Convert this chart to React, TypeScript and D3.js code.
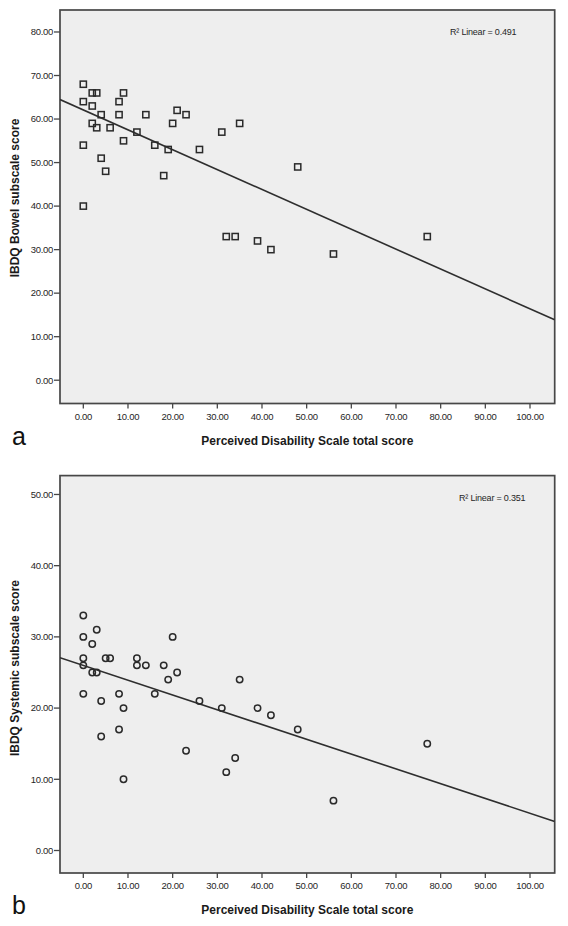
import React from "react";
import * as d3 from "d3";

// ---- Data ----
const xTickValues = [0, 10, 20, 30, 40, 50, 60, 70, 80, 90, 100];
const yTicksBowel = [0, 10, 20, 30, 40, 50, 60, 70, 80];
const yTicksSystemic = [0, 10, 20, 30, 40, 50];

// Panel a: Perceived Disability Scale total score vs IBDQ Bowel subscale score
const bowelX = [0, 2, 3, 9, 0, 8, 2, 4, 8, 14, 21, 23, 2, 3, 6, 20, 12, 9, 31, 35, 0, 16, 19, 26, 4, 5, 18, 0, 48, 32, 34, 39, 42, 56, 77];
const bowelY = [68, 66, 66, 66, 64, 64, 63, 61, 61, 61, 62, 61, 59, 58, 58, 59, 57, 55, 57, 59, 54, 54, 53, 53, 51, 48, 47, 40, 49, 33, 33, 32, 30, 29, 33];
const bowelFit = [62.1, -0.457]; // intercept, slope
const bowelR2 = "0.491";

// Panel b: Perceived Disability Scale total score vs IBDQ Systemic subscale score
const systemicX = [0, 3, 0, 20, 2, 0, 5, 6, 12, 0, 12, 14, 18, 2, 3, 21, 19, 35, 0, 8, 16, 4, 26, 9, 31, 39, 42, 48, 77, 8, 4, 23, 34, 32, 9, 56];
const systemicY = [33, 31, 30, 30, 29, 27, 27, 27, 27, 26, 26, 26, 26, 25, 25, 25, 24, 24, 22, 22, 22, 21, 21, 20, 20, 20, 19, 17, 15, 17, 16, 14, 13, 11, 10, 7];
const systemicFit = [26.0, -0.2077];
const systemicR2 = "0.351";

const FONT = "'Liberation Sans', Arial, Helvetica, sans-serif";
const FRAME = "#474747";
const INK = "#262626";

type PanelProps = {
  id: string;
  letter: string;
  xs: number[];
  ys: number[];
  fit: number[];
  r2: string;
  yTicks: number[];
  yTitle: string;
  top: number;
  bottom: number;
  yDomain: [number, number];
  yTitleY: number;
  r2X: number;
  marker: "square" | "circle";
};

const LEFT = 60;
const RIGHT = 554.7;
const X_DOMAIN: [number, number] = [-5.22, 105.53];

function Panel(p: PanelProps) {
  const x = d3.scaleLinear().domain(X_DOMAIN).range([LEFT, RIGHT]);
  const y = d3.scaleLinear().domain(p.yDomain).range([p.bottom, p.top]);
  const fitLine = d3
    .line<number>()
    .x((d) => x(d))
    .y((d) => y(p.fit[0] + p.fit[1] * d));
  const pts = p.xs.map((v, i) => [v, p.ys[i]]);
  return (
    <g>
      <defs>
        <clipPath id={`clip-${p.id}`}>
          <rect x={LEFT} y={p.top} width={RIGHT - LEFT} height={p.bottom - p.top} />
        </clipPath>
      </defs>
      <rect x={LEFT} y={p.top} width={RIGHT - LEFT} height={p.bottom - p.top} fill="#eeeeee" stroke={FRAME} strokeWidth={1.7} />
      {/* y ticks */}
      {p.yTicks.map((t) => (
        <g key={`y${t}`}>
          <line x1={LEFT - 6} x2={LEFT} y1={y(t)} y2={y(t)} stroke={FRAME} strokeWidth={1.3} />
          <text x={LEFT - 7} y={y(t)} dy="0.35em" textAnchor="end" fontSize={9.5} fill={INK} fontFamily={FONT} letterSpacing={-0.3}>
            {t.toFixed(2)}
          </text>
        </g>
      ))}
      {/* x ticks */}
      {xTickValues.map((t) => (
        <g key={`x${t}`}>
          <line x1={x(t)} x2={x(t)} y1={p.bottom} y2={p.bottom + 5} stroke={FRAME} strokeWidth={1.3} />
          <text x={x(t)} y={p.bottom + 13} dy="0.35em" textAnchor="middle" fontSize={9.5} fill={INK} fontFamily={FONT} letterSpacing={-0.3}>
            {t.toFixed(2)}
          </text>
        </g>
      ))}
      <g clipPath={`url(#clip-${p.id})`}>
        <path d={fitLine([X_DOMAIN[0], X_DOMAIN[1]]) || ""} fill="none" stroke="#2e2e2e" strokeWidth={1.6} />
        {pts.map(([a, b], i) =>
          p.marker === "square" ? (
            <rect key={i} x={x(a) - 3.1} y={y(b) - 3.1} width={6.2} height={6.2} fill="none" stroke="#2a2a2a" strokeWidth={1.5} />
          ) : (
            <circle key={i} cx={x(a)} cy={y(b)} r={3.2} fill="none" stroke="#2a2a2a" strokeWidth={1.5} />
          )
        )}
      </g>
      <text x={p.r2X} y={p.top + 22} dy="0.35em" fontSize={9} fill={INK} fontFamily={FONT} letterSpacing={-0.2}>
        {`R² Linear = ${p.r2}`}
      </text>
      <text x={(LEFT + RIGHT) / 2} y={p.bottom + 37} dy="0.35em" textAnchor="middle" fontSize={12} fontWeight="bold" fill="#1a1a1a" fontFamily={FONT}>
        Perceived Disability Scale total score
      </text>
      <text transform={`translate(15,${p.yTitleY}) rotate(-90)`} dy="0.35em" textAnchor="middle" fontSize={12} fontWeight="bold" fill="#1a1a1a" fontFamily={FONT}>
        {p.yTitle}
      </text>
      <text x={12} y={p.bottom + 41} fontSize={25} fill="#111" fontFamily={FONT}>
        {p.letter}
      </text>
    </g>
  );
}

export default function App() {
  return (
    <svg width={568} height={926} style={{ position: "absolute", left: 0, top: 0, background: "#fff" }}>
      <rect width={568} height={926} fill="#fff" />
      <Panel
        id="a"
        letter="a"
        xs={bowelX}
        ys={bowelY}
        fit={bowelFit}
        r2={bowelR2}
        yTicks={yTicksBowel}
        yTitle="IBDQ Bowel subscale score"
        top={10}
        bottom={403.5}
        yDomain={[-5.35, 85.05]}
        yTitleY={198}
        r2X={450}
        marker="square"
      />
      <Panel
        id="b"
        letter="b"
        xs={systemicX}
        ys={systemicY}
        fit={systemicFit}
        r2={systemicR2}
        yTicks={yTicksSystemic}
        yTitle="IBDQ Systemic subscale score"
        top={475.6}
        bottom={873}
        yDomain={[-3.16, 52.65]}
        yTitleY={668}
        r2X={459}
        marker="circle"
      />
    </svg>
  );
}
